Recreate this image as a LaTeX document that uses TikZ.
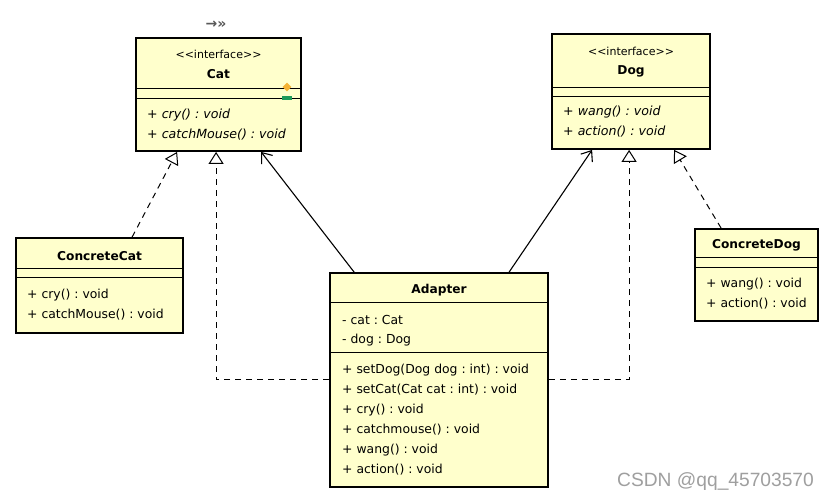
\documentclass[tikz,border=0pt]{standalone}
\usepackage{fontspec}
\setmainfont{DejaVu Sans}
\newfontfamily\wmfont{Liberation Sans}
\newfontfamily\symfont{DejaVu Sans}
\usetikzlibrary{arrows.meta,shapes.geometric}
\definecolor{umlfill}{HTML}{FFFFCC}
\definecolor{mkorange}{HTML}{F5B335}
\definecolor{mkgreen}{HTML}{1E9A5A}
\frenchspacing
\newcommand{\stereotxt}{\textless\kern0pt\textless interface\textgreater\kern0pt\textgreater}
\begin{document}
\begin{tikzpicture}[x=1pt,y=-1pt,
  classbox/.style={draw=black,fill=umlfill,line width=1.8pt,inner sep=0pt,rectangle},
  sep/.style={draw=black,line width=0.9pt},
  txt/.style={font=\fontsize{12.4}{15}\selectfont,inner sep=0pt,anchor=west},
  itxt/.style={font=\fontsize{12.6}{15}\selectfont\itshape,inner sep=0pt,anchor=west},
  title/.style={font=\fontsize{12.2}{15}\selectfont\bfseries,inner sep=0pt},
  stereo/.style={font=\fontsize{11}{14}\selectfont,inner sep=0pt},
  realize/.style={line width=1pt,dash pattern=on 6pt off 5pt,-{Triangle[open,length=12pt,width=15pt,fill=white]}},
  assoc/.style={line width=1.1pt,-{Straight Barb[length=9pt,width=14pt]}}
]
\useasboundingbox (0,0) rectangle (831,502);
\fill[white] (0,0) rectangle (831,502);

% ---------- Cat ----------
\node[classbox,minimum width=165pt,minimum height=113pt] (cat) at (218.5,94.5) {};
\draw[sep] (136,88) -- (301,88);
\draw[sep] (136,98) -- (301,98);
\node[stereo] (catst) at (218.5,54) {\stereotxt};
\node[title] (catname) at (218.5,74) {Cat};
\node[itxt] (catm1) at (147,115) {+ cry() : void};
\node[itxt] (catm2) at (147,135) {+ catchMouse() : void};
\node[diamond,fill=mkorange,inner sep=0pt,minimum width=9pt,minimum height=9pt] (catdia) at (287,87) {};
\node[rectangle,fill=mkgreen,inner sep=0pt,minimum width=10pt,minimum height=4pt] (catgr) at (287,98.5) {};
\node[font=\symfont\bfseries\fontsize{14}{16}\selectfont,text=gray!70!black,inner sep=0pt] (caticon) at (216,25) {→»};

% ---------- Dog ----------
\node[classbox,minimum width=158pt,minimum height=115pt] (dog) at (631,91.5) {};
\draw[sep] (552,87) -- (710,87);
\draw[sep] (552,96) -- (710,96);
\node[stereo] (dogst) at (631,51) {\stereotxt};
\node[title] (dogname) at (631,71) {Dog};
\node[itxt] (dogm1) at (563,112) {+ wang() : void};
\node[itxt] (dogm2) at (563,132) {+ action() : void};

% ---------- ConcreteCat ----------
\node[classbox,minimum width=167pt,minimum height=95pt] (ccat) at (99.5,285.5) {};
\draw[sep] (16,268) -- (183,268);
\draw[sep] (16,277) -- (183,277);
\node[title] (ccatname) at (99.5,256) {ConcreteCat};
\node[txt] (ccatm1) at (27,295) {+ cry() : void};
\node[txt] (ccatm2) at (27,315) {+ catchMouse() : void};

% ---------- ConcreteDog ----------
\node[classbox,minimum width=123pt,minimum height=92pt] (cdog) at (756.5,275) {};
\draw[sep] (695,257) -- (818,257);
\draw[sep] (695,267) -- (818,267);
\node[title] (cdogname) at (756.5,245) {ConcreteDog};
\node[txt] (cdogm1) at (706,284) {+ wang() : void};
\node[txt] (cdogm2) at (706,304) {+ action() : void};

% ---------- Adapter ----------
\node[classbox,minimum width=218pt,minimum height=214pt] (adapter) at (439,380) {};
\draw[sep] (330,302) -- (548,302);
\draw[sep] (330,352) -- (548,352);
\node[title] (adname) at (439,290) {Adapter};
\node[txt] (ada1) at (342,320) {- cat : Cat};
\node[txt] (ada2) at (342,340) {- dog : Dog};
\node[txt] (adm1) at (342,370) {+ setDog(Dog dog : int) : void};
\node[txt] (adm2) at (342,390) {+ setCat(Cat cat : int) : void};
\node[txt] (adm3) at (342,410) {+ cry() : void};
\node[txt] (adm4) at (342,430) {+ catchmouse() : void};
\node[txt] (adm5) at (342,450) {+ wang() : void};
\node[txt] (adm6) at (342,470) {+ action() : void};

% ---------- connectors ----------
\draw[realize] ([xshift=117pt]ccat.north west) -- ([xshift=42pt]cat.south west);
\draw[realize] (adapter.west) -| ([xshift=81pt]cat.south west);
\draw[assoc] ([xshift=25pt]adapter.north west) -- ([xshift=126pt]cat.south west);
\draw[assoc] ([xshift=180pt]adapter.north west) -- ([xshift=41pt]dog.south west);
\draw[realize] (adapter.east) -| ([xshift=78pt]dog.south west);
\draw[realize] ([xshift=27pt]cdog.north west) -- ([xshift=123pt]dog.south west);

% ---------- watermark ----------
\node[font=\wmfont\fontsize{19.2}{21}\selectfont,text=gray!75,inner sep=0pt,anchor=west] (wm) at (617,482) {CSDN @qq\_45703570};
\end{tikzpicture}
\end{document}
